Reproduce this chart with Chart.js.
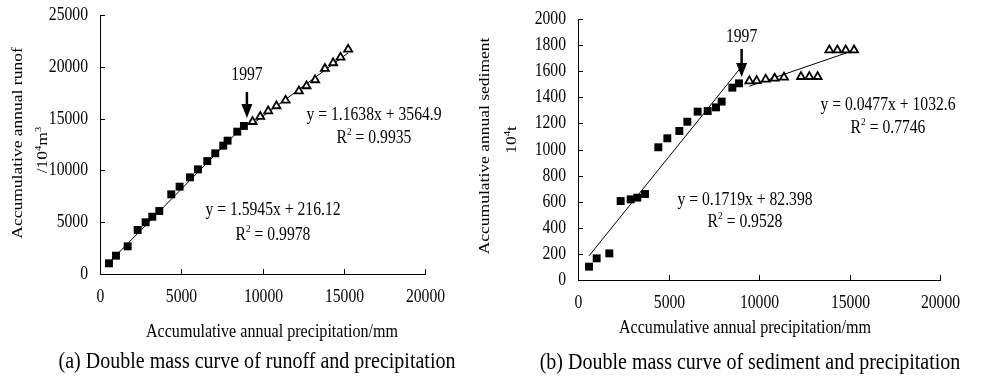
<!DOCTYPE html>
<html>
<head>
<meta charset="utf-8">
<title>Double mass curves</title>
<script src="https://cdn.jsdelivr.net/npm/chart.js@4.4.1/dist/chart.umd.min.js"></script>
<style>
	body { margin: 0; background: #fff; }
	#wrap { position: relative; width: 997px; height: 385px; overflow: hidden; }
	canvas { position: absolute; top: 0; }
	#ca { left: 0; }
	#cb { left: 470px; }
</style>
</head>
<body>
<div id="wrap">
	<canvas id="ca" width="478" height="385"></canvas>
	<canvas id="cb" width="527" height="385"></canvas>
</div>
<script>
	// (a) runoff vs precipitation, before / after 1997
	const precipA1 = [553, 984, 1702, 2316, 2808, 3218, 3648, 4385, 4898, 5535, 6027, 6601, 7093, 7585, 7851, 8446, 8856];
	const runoffA1 = [1030, 1770, 2670, 4250, 4990, 5530, 6080, 7690, 8430, 9330, 10100, 10900, 11650, 12390, 12870, 13740, 14290];
	const precipA2 = [9389, 9860, 10350, 10860, 11420, 12240, 12710, 13240, 13840, 14350, 14800, 15270];
	const runoffA2 = [14700, 15190, 15730, 16220, 16760, 17660, 18150, 18730, 19820, 20370, 20910, 21690];
	// trend line end points
	const fitA1X = [553, 8856], fitA1Y = [1100, 14340];
	const fitA2X = [9389, 15270], fitA2Y = [14490, 21340];

	// (b) sediment vs precipitation
	const precipB1 = [608, 1032, 1731, 2357, 2910, 3278, 3702, 4438, 4935, 5598, 6041, 6611, 7164, 7624, 7938, 8527, 8895];
	const sedB1 = [102, 166, 204, 605, 618, 631, 659, 1017, 1086, 1142, 1213, 1290, 1295, 1323, 1367, 1474, 1507];
	const precipB2 = [9466, 9871, 10368, 10866, 11381, 12320, 12780, 13240, 13887, 14330, 14790, 15250];
	const sedB2 = [1525, 1527, 1538, 1545, 1553, 1558, 1558, 1558, 1762, 1762, 1762, 1762];
	const fitB1X = [608, 8950], fitB1Y = [185, 1620];
	const fitB2X = [9466, 15250], fitB2Y = [1485, 1760];

	const xTicks = [0, 5000, 10000, 15000, 20000];
	const yTicksA = [0, 5000, 10000, 15000, 20000, 25000];
	const yTicksB = [0, 200, 400, 600, 800, 1000, 1200, 1400, 1600, 1800, 2000];

	// notes: [x, y, text parts]; a part is [text, superscript]
	const notesA = [
		[9046, 19210, [['1997']]],
		[16860, 15350, [['y = 1.1638x + 3564.9']]],
		[16860, 13130, [['R'], ['2', 1], [' = 0.9935']]],
		[10646, 6180, [['y = 1.5945x + 216.12']]],
		[10646, 3770, [['R'], ['2', 1], [' = 0.9978']]]
	];
	const notesB = [
		[9040, 1862, [['1997']]],
		[17128, 1341, [['y = 0.0477x + 1032.6']]],
		[17128, 1165, [['R'], ['2', 1], [' = 0.7746']]],
		[9227, 613, [['y = 0.1719x + 82.398']]],
		[9227, 444, [['R'], ['2', 1], [' = 0.9528']]]
	];
	// arrow: x, from y, to y
	const arrowA = [9040, 17570, 15060];
	const arrowB = [9040, 1770, 1556];

	const SQ = 0.87; // the whole figure is a bit squeezed sideways
	const SERIF = '"Liberation Serif", "Times New Roman", serif';

	function pts(xs, ys) {
		return xs.map((v, i) => ({ x: v, y: ys[i] }));
	}

	function drawText(ctx, parts, x, y, size, align, rot) {
		if (typeof parts === 'string') parts = [[parts]];
		const supSize = size * 0.6;
		ctx.save();
		ctx.translate(x, y);
		ctx.scale(SQ, 1);
		if (rot) ctx.rotate(rot);
		ctx.textBaseline = 'middle';
		ctx.textAlign = 'left';
		let w = 0;
		parts.forEach(p => {
			ctx.font = (p[1] ? supSize : size) + 'px ' + SERIF;
			w += ctx.measureText(p[0]).width;
		});
		let cx = align === 'center' ? -w / 2 : (align === 'right' ? -w : 0);
		parts.forEach(p => {
			ctx.font = (p[1] ? supSize : size) + 'px ' + SERIF;
			ctx.fillText(p[0], cx, p[1] ? -size * 0.3 : 0);
			cx += ctx.measureText(p[0]).width;
		});
		ctx.restore();
	}

	const decor = {
		id: 'decor',
		afterDraw(chart, args, o) {
			const { ctx, chartArea: ca, scales: { x, y } } = chart;
			ctx.save();
			ctx.fillStyle = '#000';
			ctx.strokeStyle = '#000';
			ctx.lineWidth = 1;

			// inward tick marks and their labels
			x.ticks.forEach(t => {
				const px = Math.round(x.getPixelForValue(t.value)) + 0.5;
				ctx.beginPath();
				ctx.moveTo(px, ca.bottom);
				ctx.lineTo(px, ca.bottom - 5);
				ctx.stroke();
				drawText(ctx, String(t.value), px, ca.bottom + 23, 18, 'center');
			});
			y.ticks.forEach(t => {
				const py = Math.round(y.getPixelForValue(t.value)) + 0.5;
				ctx.beginPath();
				ctx.moveTo(ca.left, py);
				ctx.lineTo(ca.left + 5, py);
				ctx.stroke();
				drawText(ctx, String(t.value), ca.left - 12, py, 18, 'right');
			});

			// axis titles and caption
			drawText(ctx, 'Accumulative annual precipitation/mm', o.xTitle[0], o.xTitle[1], 18.5, 'center');
			o.yTitle.forEach(l => drawText(ctx, l[2], l[0], l[1], 17.5, 'center', -Math.PI / 2));
			drawText(ctx, o.caption[2], o.caption[0], o.caption[1], 23, 'center');

			// equations, year
			o.notes.forEach(n => {
				drawText(ctx, n[2], x.getPixelForValue(n[0]), y.getPixelForValue(n[1]), 18, 'center');
			});

			// arrow
			const a = o.arrow;
			const ax = x.getPixelForValue(a[0]);
			const y0 = y.getPixelForValue(a[1]);
			const y1 = y.getPixelForValue(a[2]);
			const head = 14;
			ctx.lineWidth = 2.5;
			ctx.beginPath();
			ctx.moveTo(ax, y0);
			ctx.lineTo(ax, y1 - head + 1);
			ctx.stroke();
			ctx.beginPath();
			ctx.moveTo(ax - 5.5, y1 - head);
			ctx.lineTo(ax + 5.5, y1 - head);
			ctx.lineTo(ax, y1);
			ctx.closePath();
			ctx.fill();
			ctx.restore();
		}
	};

	function makeChart(id, cfg) {
		const el = document.getElementById(id);
		return new Chart(el.getContext('2d'), {
			type: 'scatter',
			data: {
				datasets: [
					{
						data: pts(cfg.sx, cfg.sy),
						pointStyle: 'rect',
						pointRadius: 5.6,
						backgroundColor: '#000',
						borderColor: '#000',
						borderWidth: 0
					},
					{
						data: pts(cfg.tx, cfg.ty),
						pointStyle: 'triangle',
						pointRadius: 4.6,
						backgroundColor: '#fff',
						borderColor: '#000',
						borderWidth: 1.8
					},
					{
						data: pts(cfg.f1x, cfg.f1y),
						showLine: true,
						pointRadius: 0,
						borderColor: '#000',
						borderWidth: 1
					},
					{
						data: pts(cfg.f2x, cfg.f2y),
						showLine: true,
						pointRadius: 0,
						borderColor: '#000',
						borderWidth: 1
					}
				]
			},
			options: {
				responsive: false,
				animation: false,
				layout: { padding: { left: 0, right: cfg.padRight, top: cfg.top, bottom: 0 } },
				scales: {
					x: {
						type: 'linear',
						min: 0,
						max: 20000,
						afterBuildTicks: s => { s.ticks = xTicks.map(v => ({ value: v })); },
						ticks: { display: false },
						grid: { display: false },
						border: { display: true, color: '#000', width: 1 },
						afterFit: s => { s.height = 385 - cfg.bottom; }
					},
					y: {
						type: 'linear',
						min: 0,
						max: cfg.yMax,
						afterBuildTicks: s => { s.ticks = cfg.yTicks.map(v => ({ value: v })); },
						ticks: { display: false },
						grid: { display: false },
						border: { display: true, color: '#000', width: 1 },
						afterFit: s => { s.width = cfg.left; }
					}
				},
				plugins: {
					legend: { display: false },
					tooltip: { enabled: false },
					decor: {
						notes: cfg.notes,
						arrow: cfg.arrow,
						xTitle: cfg.xTitle,
						yTitle: cfg.yTitle,
						caption: cfg.caption
					}
				}
			},
			plugins: [decor]
		});
	}

	makeChart('ca', {
		sx: precipA1, sy: runoffA1, tx: precipA2, ty: runoffA2,
		f1x: fitA1X, f1y: fitA1Y, f2x: fitA2X, f2y: fitA2Y,
		yMax: 25000, yTicks: yTicksA,
		left: 100, padRight: 53, top: 15, bottom: 274,
		notes: notesA, arrow: arrowA,
		xTitle: [272, 332],
		yTitle: [[18, 143, [['Accumulative annual runof']]], [43, 150, [['/10'], ['4', 1], ['m'], ['3', 1]]]],
		caption: [257, 362, [['(a) Double mass curve of runoff and precipitation']]]
	});

	makeChart('cb', {
		sx: precipB1, sy: sedB1, tx: precipB2, ty: sedB2,
		f1x: fitB1X, f1y: fitB1Y, f2x: fitB2X, f2y: fitB2Y,
		yMax: 2000, yTicks: yTicksB,
		left: 108, padRight: 57, top: 19, bottom: 280,
		notes: notesB, arrow: arrowB,
		xTitle: [275, 328],
		yTitle: [[15, 146, [['Accumulative annual sediment']]], [42, 140, [['10'], ['4', 1], ['t']]]],
		caption: [280, 363, [['(b) Double mass curve of sediment and precipitation']]]
	});
</script>
</body>
</html>
